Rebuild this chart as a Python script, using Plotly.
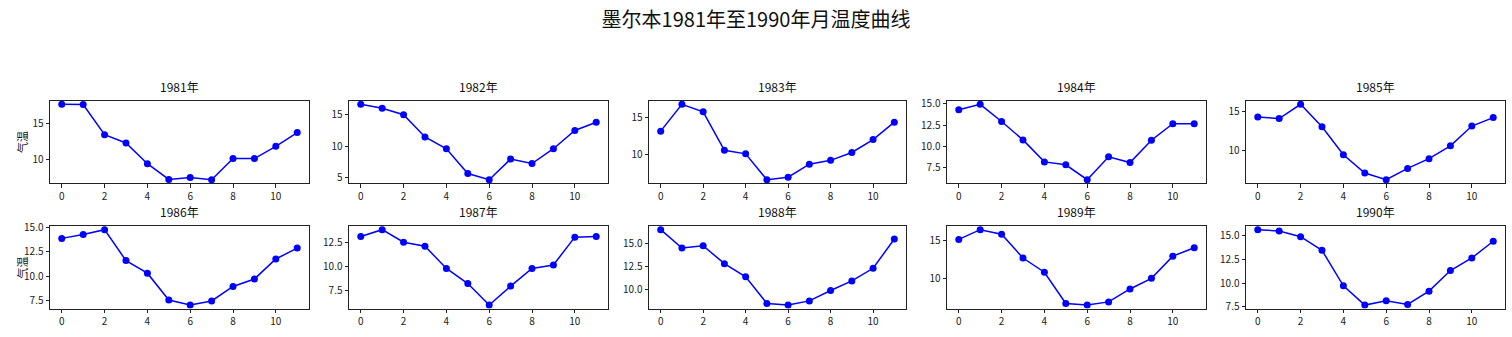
import plotly.graph_objects as go

# Monthly mean temperatures in Melbourne, month index 0-11
months = list(range(12))
years = ["1981", "1982", "1983", "1984", "1985", "1986", "1987", "1988", "1989", "1990"]

t1981 = [17.71, 17.68, 13.50, 12.36, 9.49, 7.31, 7.57, 7.27, 10.20, 10.20, 11.90, 13.80]
t1982 = [16.64, 16.03, 15.00, 11.46, 9.60, 5.67, 4.69, 7.97, 7.26, 9.60, 12.50, 13.80]
t1983 = [13.19, 16.86, 15.84, 10.58, 10.09, 6.55, 6.90, 8.67, 9.20, 10.27, 12.04, 14.42]
t1984 = [14.31, 14.96, 12.92, 10.73, 8.12, 7.77, 6.00, 8.73, 8.04, 10.69, 12.65, 12.65]
t1985 = [14.29, 14.08, 15.92, 13.04, 9.42, 7.08, 6.21, 7.67, 8.92, 10.58, 13.12, 14.21]
t1986 = [13.90, 14.30, 14.80, 11.60, 10.30, 7.53, 7.00, 7.43, 8.93, 9.70, 11.77, 12.90]
t1987 = [13.17, 13.88, 12.57, 12.16, 9.83, 8.26, 6.01, 7.99, 9.83, 10.20, 13.10, 13.17]
t1988 = [16.56, 14.54, 14.79, 12.82, 11.38, 8.44, 8.26, 8.72, 9.86, 10.92, 12.31, 15.53]
t1989 = [15.08, 16.36, 15.76, 12.63, 10.76, 6.65, 6.44, 6.86, 8.56, 9.96, 12.88, 13.98]
t1990 = [15.64, 15.51, 14.90, 13.47, 9.73, 7.70, 8.15, 7.77, 9.17, 11.34, 12.66, 14.42]
series = [t1981, t1982, t1983, t1984, t1985, t1986, t1987, t1988, t1989, t1990]

# y tick step for each panel
y_steps = [5, 5, 5, 2.5, 5, 2.5, 2.5, 2.5, 5, 2.5]

title_text = "墨尔本1981年至1990年月温度曲线"
ylabel_text = "气温"

W, H = 1512, 337
FONT = "Noto Sans CJK SC, SimHei, sans-serif"

# panel boxes in pixels
col_x = [(50, 309), (349, 608), (649, 906), (947, 1206), (1246, 1505)]
row_y = [(97, 183), (227, 313)]

fig = go.Figure()
annotations = []

for i, (yr, vals) in enumerate(zip(years, series)):
    r, c = divmod(i, 5)
    n = i + 1
    xa = "xaxis" if n == 1 else f"xaxis{n}"
    ya = "yaxis" if n == 1 else f"yaxis{n}"
    xref = "x" if n == 1 else f"x{n}"
    yref = "y" if n == 1 else f"y{n}"

    fig.add_trace(go.Scatter(
        x=months, y=vals, mode="lines+markers",
        line=dict(color="#0000ff", width=1.5),
        marker=dict(color="#0000ff", size=7),
        xaxis=xref, yaxis=yref, showlegend=False,
    ))

    x0, x1 = col_x[c]
    y0, y1 = row_y[r]
    lo, hi = min(vals), max(vals)
    pad = (hi - lo) * 0.05
    step = y_steps[i]

    axis_common = dict(
        showgrid=False, zeroline=False, showline=True, mirror=True,
        linecolor="#222", linewidth=1, ticks="outside", ticklen=3.5,
        tickwidth=1, tickcolor="#222",
        tickfont=dict(family=FONT, size=10, color="#222"),
    )
    fig.update_layout({
        xa: dict(axis_common, domain=[x0 / W, x1 / W], range=[-0.55, 11.55],
                 tick0=0, dtick=2, anchor=yref),
        ya: dict(axis_common, domain=[1 - y1 / H, 1 - y0 / H], range=[lo - pad, hi + pad],
                 tick0=0, dtick=step, tickformat=".1f" if step < 5 else "d",
                 anchor=xref),
    })

    annotations.append(dict(
        text=f"{yr}年", x=(x0 + x1) / 2 / W, y=1 - (y0 - 4) / H,
        xref="paper", yref="paper", xanchor="center", yanchor="bottom",
        showarrow=False, font=dict(family=FONT, size=12, color="#111"),
    ))

for y0, y1 in row_y:
    annotations.append(dict(
        text=ylabel_text, x=22 / W, y=1 - (y0 + y1) / 2 / H,
        xref="paper", yref="paper", xanchor="center", yanchor="middle",
        textangle=-90, showarrow=False,
        font=dict(family=FONT, size=11, color="#111"),
    ))

fig.update_layout(
    width=W, height=H,
    margin=dict(l=0, r=0, t=0, b=0),
    paper_bgcolor="white", plot_bgcolor="white",
    title=dict(text=title_text, x=0.5, xanchor="center", y=1 - 20 / H, yanchor="middle",
               font=dict(family=FONT, size=20, color="#111")),
    annotations=annotations,
)

fig.write_html("out.html")
